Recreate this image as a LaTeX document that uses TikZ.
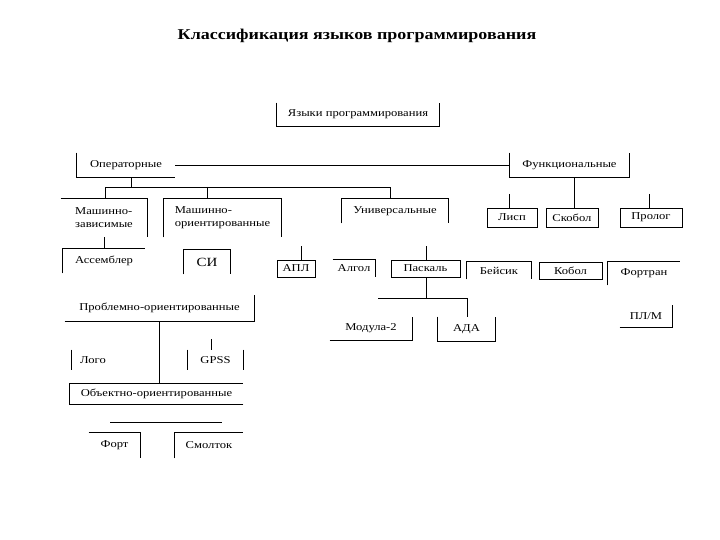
\documentclass[tikz,border=0pt]{standalone}
\usepackage{fontspec}
\setmainfont[FakeStretch=1.2]{Liberation Serif}
\begin{document}
\begin{tikzpicture}[x=1pt,y=-1pt,line width=0.8pt,
  lbl/.style={inner sep=0pt,font=\fontsize{10.5}{13}\selectfont,align=left},
  full/.style={lbl,draw}]
\useasboundingbox (0,0) rectangle (720,540);
\node[inner sep=0pt,font=\fontsize{15}{17}\bfseries\selectfont] (title) at (357,36) {Классификация языков программирования};
% level boxes
\node[lbl,minimum width=162,minimum height=23] (lang) at (358,114.5) {Языки программирования};
\node[lbl,minimum width=98,minimum height=24] (oper) at (126,165) {Операторные};
\node[lbl,minimum width=119,minimum height=24] (func) at (569.5,165) {Функциональные};
\node[lbl,minimum width=86,minimum height=38] (mz) at (104,218) {Машинно-\\зависимые};
\node[lbl,minimum width=117,minimum height=38] (mo) at (222.5,218) {Машинно-\\ориентированные};
\node[lbl,minimum width=106,minimum height=24] (univ) at (395,211) {Универсальные};
\node[lbl,minimum width=82,minimum height=24] (asm) at (104,261) {Ассемблер};
\node[lbl,minimum width=46,minimum height=24,font=\fontsize{12.5}{14}\selectfont] (si) at (207,262) {СИ};
\node[full,minimum width=38,minimum height=17] (apl) at (296,268.5) {АПЛ};
\node[lbl,minimum width=42,minimum height=17] (algol) at (354,268.5) {Алгол};
\node[full,minimum width=69,minimum height=17] (pascal) at (425.5,268.5) {Паскаль};
\node[lbl,minimum width=64,minimum height=17] (basic) at (499,270.5) {Бейсик};
\node[full,minimum width=63,minimum height=17] (cobol) at (570.5,270.5) {Кобол};
\node[lbl,minimum width=72,minimum height=23] (fortran) at (644,273.5) {Фортран};
\node[lbl,minimum width=82,minimum height=23] (modula) at (371,328.5) {Модула-2};
\node[lbl,minimum width=57,minimum height=24] (ada) at (466.5,329) {АДА};
\node[lbl,minimum width=52,minimum height=22] (plm) at (646,316) {ПЛ/М};
\node[full,minimum width=50,minimum height=19] (lisp) at (512,217.5) {Лисп};
\node[full,minimum width=52,minimum height=19] (snobol) at (572,217.5) {Скобол};
\node[full,minimum width=62,minimum height=19] (prolog) at (651,217.5) {Пролог};
\node[lbl,minimum width=189,minimum height=26] (prob) at (159.5,308) {Проблемно-ориентированные};
\node[lbl,minimum width=42,minimum height=20] (logo) at (93,360) {Лого};
\node[lbl,minimum width=55,minimum height=20] (gpss) at (215.5,360) {GPSS};
\node[lbl,minimum width=173,minimum height=20] (obj) at (156.5,394) {Объектно-ориентированные};
\node[lbl,minimum width=51,minimum height=25] (fort) at (114.5,445.5) {Форт};
\node[lbl,minimum width=68,minimum height=25] (smalltalk) at (209,445.5) {Смолток};
% partial box outlines
\draw (lang.north west) -- (lang.south west) -- (lang.south east) -- (lang.north east);
\draw (oper.north west) -- (oper.south west) -- (oper.south east);
\draw (func.north west) -- (func.south west) -- (func.south east) -- (func.north east);
\draw (mz.north west) -- (mz.north east) -- (mz.south east);
\draw (mo.south west) -- (mo.north west) -- (mo.north east) -- (mo.south east);
\draw (univ.south west) -- (univ.north west) -- (univ.north east) -- (univ.south east);
\draw (asm.south west) -- (asm.north west) -- (asm.north east);
\draw (si.south west) -- (si.north west) -- (si.north east) -- (si.south east);
\draw (algol.north west) -- (algol.north east) -- (algol.south east);
\draw (basic.south west) -- (basic.north west) -- (basic.north east) -- (basic.south east);
\draw (fortran.south west) -- (fortran.north west) -- (fortran.north east);
\draw (modula.south west) -- (modula.south east) -- (modula.north east);
\draw (ada.north west) -- (ada.south west) -- (ada.south east) -- (ada.north east);
\draw (plm.south west) -- (plm.south east) -- (plm.north east);
\draw (prob.south west) -- (prob.south east) -- (prob.north east);
\draw (logo.north west) -- (logo.south west);
\draw (gpss.north west) -- (gpss.south west);
\draw (gpss.north east) -- (gpss.south east);
\draw (obj.south east) -- (obj.south west) -- (obj.north west) -- (obj.north east);
\draw (fort.north west) -- (fort.north east) -- (fort.south east);
\draw (smalltalk.south west) -- (smalltalk.north west) -- (smalltalk.north east);
% connectors
\coordinate (jO) at (131,187);
\coordinate (tL) at (105,187);
\coordinate (tM) at (207,187);
\coordinate (tR) at (390,187);
\draw (oper.south -| jO) -- (jO);
\draw (mz.north -| tL) -- (tL) -- (tR) -- (univ.north -| tR);
\draw (tM) -- (mo.north -| tM);
\draw (oper.east) -- (func.west);
\coordinate (jF) at (574,190);
\draw (func.south -| jF) -- (snobol.north -| jF);
\coordinate (sL) at (509,194);
\coordinate (sR) at (649,194);
\draw (sL) -- (lisp.north -| sL);
\draw (sR) -- (prolog.north -| sR);
\coordinate (jA) at (104,240);
\draw (mz.south -| jA) -- (asm.north -| jA);
\coordinate (uA) at (301,246);
\coordinate (uP) at (426,246);
\draw (uA) -- (apl.north -| uA);
\draw (uP) -- (pascal.north -| uP);
\coordinate (pL) at (378,298);
\coordinate (pM) at (426,298);
\coordinate (pR) at (467,298);
\draw (pascal.south -| pM) -- (pM);
\draw (pL) -- (pR) -- (ada.north -| pR);
\coordinate (jP) at (159,330);
\draw (prob.south -| jP) -- (obj.north -| jP);
\coordinate (gS) at (211,339);
\draw (gS) -- (gpss.north -| gS);
\coordinate (hL) at (110,422);
\coordinate (hR) at (222,422);
\draw (hL) -- (hR);
\end{tikzpicture}
\end{document}
